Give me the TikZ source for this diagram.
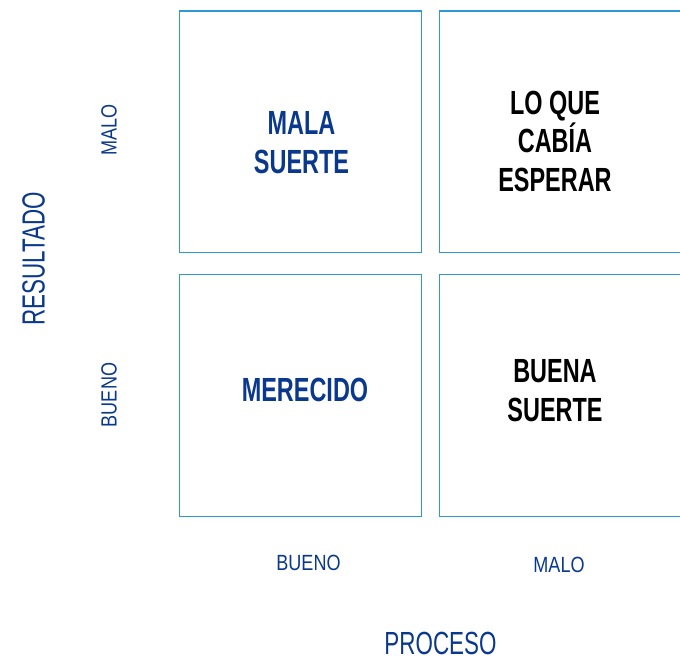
\documentclass[tikz,border=0pt]{standalone}
\usepackage{fontspec}
\newfontfamily\narrowsans[FakeStretch=0.7]{Liberation Sans}
\newfontfamily\labelsans[FakeStretch=0.82]{Liberation Sans}
\definecolor{frameblue}{RGB}{46,151,213}
\definecolor{textblue}{RGB}{10,56,140}
\usetikzlibrary{positioning}

\begin{document}
\begin{tikzpicture}[x=1pt,y=-1pt,
  cell/.style={draw=frameblue,line width=1.2pt,minimum width=242pt,
    minimum height=241.5pt,inner sep=0pt},
  verdict/.style={align=center,inner sep=0pt,
    font=\narrowsans\bfseries\fontsize{33.5}{38.5}\selectfont},
  axistitle/.style={text=textblue,inner sep=0pt,
    font=\narrowsans\fontsize{32}{36}\selectfont},
  axisvalue/.style={text=textblue,inner sep=0pt,
    font=\labelsans\fontsize{22}{26}\selectfont}]
\useasboundingbox (0,0) rectangle (680,660);

\node[cell] (mala) at (300.5,131.75) {};
\node[cell,right=17pt of mala] (cabia) {};
\node[cell,below=21pt of mala] (merecido) {};
\node[cell,right=17pt of merecido] (buena) {};

\node[verdict,text=textblue] (malatxt) at (301.5,142.5) {MALA\\SUERTE};
\node[verdict] (cabiatxt) at (555,141) {LO QUE\\CABÍA\\ESPERAR};
\node[verdict,text=textblue] (merecidotxt) at (305,390) {MERECIDO};
\node[verdict] (buenatxt) at (555,390.5) {BUENA\\SUERTE};

\node[axistitle,rotate=90] (resultado) at (33.5,259) {RESULTADO};
\node[axisvalue,rotate=90] (resmalo) at (109,130) {MALO};
\node[axisvalue,rotate=90] (resbueno) at (109,395) {BUENO};

\node[axisvalue] (probueno) at (308.5,563) {BUENO};
\node[axisvalue] (promalo) at (559,565) {MALO};
\node[axistitle] (proceso) at (440.5,643) {PROCESO};
\end{tikzpicture}
\end{document}
